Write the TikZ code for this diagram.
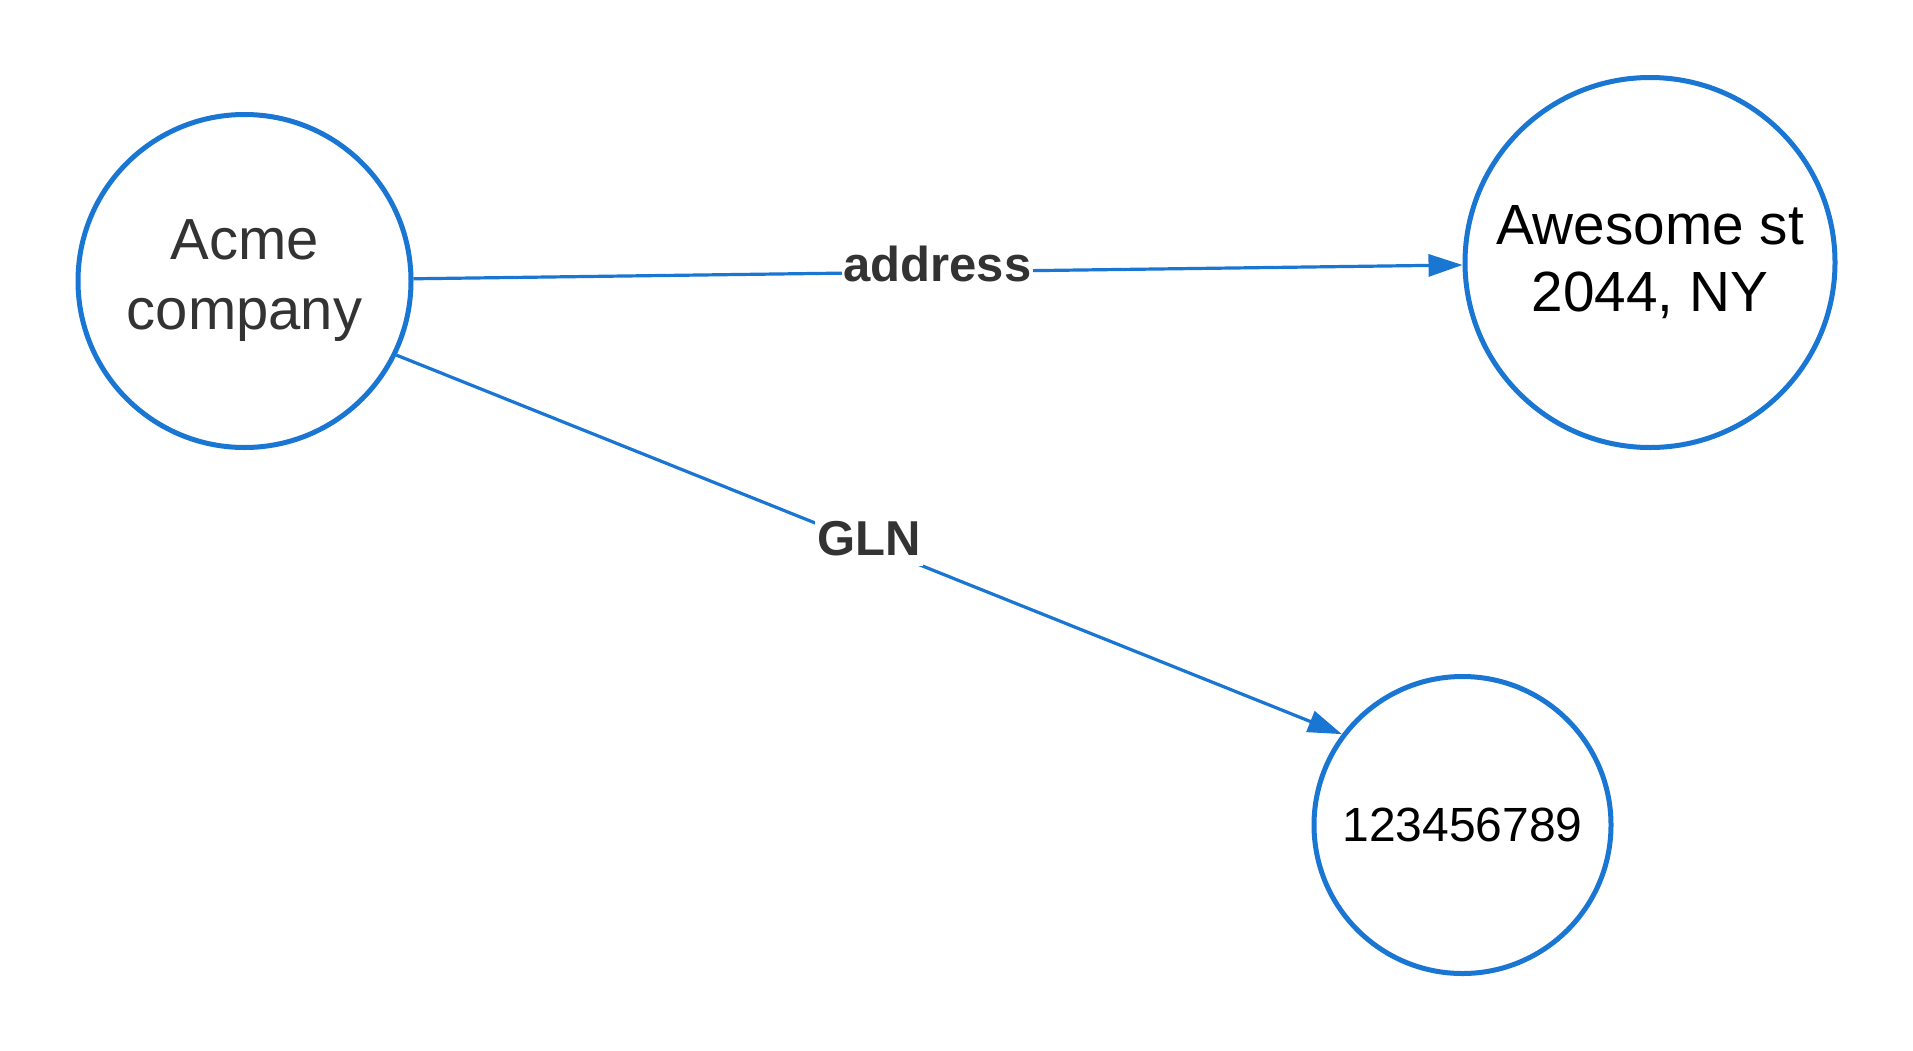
\documentclass[tikz,border=0pt]{standalone}
\usepackage{fontspec}
\setmainfont{Liberation Sans}
\usetikzlibrary{arrows.meta}
\definecolor{nodeblue}{RGB}{25,118,210}
\definecolor{txtgray}{HTML}{333333}
\begin{document}
\begin{tikzpicture}[x=1pt,y=-1pt,
  ent/.style={circle,draw=nodeblue,line width=5pt,inner sep=0pt,fill=white,align=center},
  edge/.style={draw=nodeblue,line width=3.2pt,-{Triangle[length=34pt,width=22pt]}},
  lbl/.style={fill=white,inner xsep=2pt,inner ysep=1pt,text depth=10pt,text=txtgray,font=\fontsize{49}{58}\selectfont\bfseries,anchor=base}]
\useasboundingbox[fill=white] (0,0) rectangle (1913,1050);
\node[ent,minimum size=333pt,text=txtgray,font=\fontsize{58}{70}\selectfont] (acme) at (244.5,281) {Acme\\company};
\node[ent,minimum size=370pt,text=black,font=\fontsize{56.7}{67}\selectfont] (awe) at (1650,262.5) {Awesome st\\2044, NY};
\node[ent,minimum size=297pt,text=black,font=\fontsize{48}{56}\selectfont] (num) at (1462.5,825) {123456789};
\draw[edge] (acme) -- (awe);
\draw[edge] (acme.-26.3) -- (num.143.1);
\node[lbl] (addr) at (937.5,281.7) {address};
\node[lbl] (gln) at (869,555) {GLN};
\end{tikzpicture}
\end{document}
